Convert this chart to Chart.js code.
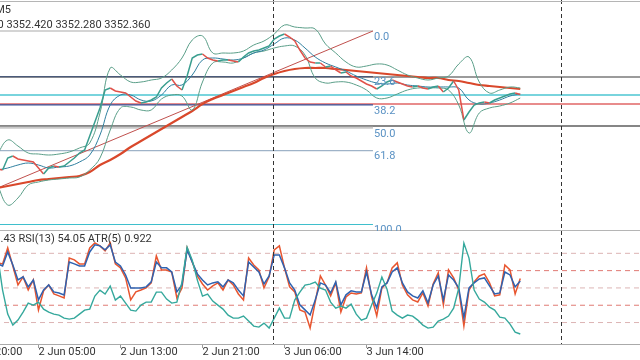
<!DOCTYPE html>
<html>
<head>
<meta charset="utf-8">
<script src="https://cdn.jsdelivr.net/npm/chart.js@4.4.0/dist/chart.umd.min.js"></script>
<style>
  html, body { margin: 0; padding: 0; background: #fff; overflow: hidden; }
  #wrap { position: relative; width: 640px; height: 360px; overflow: hidden; }
  canvas { position: absolute; left: -50px; }
  #main { top: 0; }
  #osc  { top: 231px; }
</style>
</head>
<body>
<div id="wrap">
  <canvas id="main" width="690" height="231"></canvas>
  <canvas id="osc" width="690" height="129"></canvas>
</div>
<script>
// time axis in trading hours, 0 = 2 Jun 05:00 ---------------------
const tickHours  = [-8, 0, 8, 16, 24, 32];
const tickLabels = ["30 May 20:00", "2 Jun 05:00", "2 Jun 13:00", "2 Jun 21:00", "3 Jun 06:00", "3 Jun 14:00"];
const xMin = -8.63, xMax = 58.68;

// price, sampled every 30 min
const closeStart = -4, closeStep = 0.5;
const close = [
  3315.1, 3314.6, 3320.6, 3321.6, 3320.1, 3319.6, 3319.1, 3318.6, 3315.6, 3312.6,
  3315.6, 3316.6, 3316.1, 3316.6, 3318.6, 3320.6, 3323.1, 3324.6, 3331.6, 3338.6,
  3345.6, 3354.6, 3355.6, 3354.1, 3353.6, 3353.1, 3351.1, 3349.1, 3348.1, 3348.6,
  3349.6, 3351.1, 3355.6, 3358.1, 3360.1, 3356.6, 3354.6, 3361.6, 3370.6, 3372.1,
  3372.6, 3370.6, 3369.6, 3369.1, 3369.6, 3369.6, 3369.1, 3368.6, 3371.1, 3373.1,
  3374.1, 3374.6, 3375.6, 3376.6, 3380.1, 3381.6, 3382.6, 3381.1, 3379.1, 3374.6,
  3370.6, 3368.6, 3368.1, 3368.1, 3366.1, 3366.6, 3364.6, 3363.1, 3363.6, 3361.6,
  3360.6, 3359.1, 3357.6, 3356.6, 3355.1, 3356.6, 3358.6, 3359.6, 3358.6, 3357.6,
  3356.6, 3356.1, 3356.6, 3355.6, 3355.1, 3356.1, 3356.6, 3353.6, 3355.6, 3359.1,
  3354.6, 3339.6, 3343.6, 3347.1, 3348.1, 3348.6, 3348.1, 3349.6, 3350.6, 3351.6,
  3352.6, 3353.1, 3352.36
];

// indicators on the price pane, sampled every hour
const bandStart = -4, bandStep = 1;
const bbUpper = [
  3322.6, 3329.6, 3326.6, 3323.1, 3322.6, 3322.1, 3322.6, 3323.6, 3325.6, 3328.1,
  3343.1, 3365.6, 3362.1, 3358.6, 3358.6, 3359.6, 3360.6, 3364.6, 3370.6, 3379.6,
  3381.6, 3373.1, 3373.1, 3373.1, 3374.1, 3377.1, 3379.1, 3382.6, 3387.1, 3386.1,
  3385.6, 3385.1, 3377.6, 3373.1, 3368.6, 3366.1, 3366.6, 3367.6, 3367.1, 3364.6,
  3362.1, 3360.6, 3359.6, 3360.6, 3361.6, 3367.6, 3371.1, 3358.6, 3353.1, 3354.6,
  3356.1, 3355.6
];
const bbLower = [
  3307.1, 3297.1, 3300.6, 3307.1, 3308.6, 3309.6, 3310.1, 3310.6, 3311.1, 3314.6,
  3320.6, 3334.6, 3345.6, 3346.1, 3344.6, 3344.6, 3350.1, 3352.1, 3351.6, 3344.6,
  3358.6, 3368.1, 3368.6, 3368.1, 3370.6, 3373.1, 3374.1, 3375.6, 3376.6, 3376.6,
  3372.1, 3360.6, 3358.1, 3358.6, 3358.6, 3357.1, 3354.6, 3350.6, 3350.6, 3352.6,
  3354.6, 3355.6, 3355.6, 3355.6, 3354.6, 3347.1, 3333.1, 3343.1, 3345.6, 3346.6,
  3348.1, 3350.6
];
const maFast = [
  3314.6, 3315.6, 3317.1, 3318.1, 3317.1, 3315.6, 3316.1, 3316.6, 3318.6, 3322.1,
  3332.1, 3347.1, 3352.1, 3352.1, 3349.6, 3349.1, 3352.1, 3357.1, 3357.1, 3362.1,
  3369.6, 3370.6, 3370.1, 3369.6, 3370.6, 3373.1, 3374.6, 3377.6, 3380.6, 3379.6,
  3375.6, 3371.1, 3368.1, 3366.1, 3364.1, 3361.6, 3359.6, 3358.1, 3357.6, 3358.1,
  3357.1, 3356.6, 3356.1, 3356.1, 3356.1, 3355.6, 3349.6, 3347.6, 3348.1, 3349.6,
  3351.6, 3352.6
];
const maSlow = [
  3305.6, 3306.6, 3307.6, 3308.6, 3309.6, 3310.1, 3310.6, 3311.1, 3311.6, 3313.6,
  3317.1, 3319.6, 3322.6, 3326.1, 3329.1, 3332.1, 3335.1, 3338.1, 3341.1, 3344.1,
  3347.6, 3350.1, 3352.1, 3354.1, 3356.1, 3358.1, 3360.6, 3362.6, 3364.1, 3365.1,
  3365.6, 3365.6, 3365.6, 3365.1, 3364.6, 3364.1, 3363.6, 3363.1, 3362.6, 3362.1,
  3361.6, 3361.1, 3360.6, 3360.6, 3359.6, 3359.1, 3358.1, 3357.1, 3356.6, 3356.1,
  3355.6, 3355.1
];

// drawn objects
const fibHigh = 3384.1, fibLow = 3287.35;
const fibLevels = [0, 23.6, 38.2, 50, 61.8, 100];
const fibColors = ["#a9a9a9", "#4a5a7a", "#34509a", "#c9c9c9", "#9fb3c8", "#3fbfcc"];
const fibFrom = -12.5, fibTo = 32.63;
const hLines      = [3361.1, 3352.1, 3347.6, 3336.6];
const hLineColors = ["#7a7a7a", "#4cc6d2", "#e06666", "#5e5e5e"];
const vLines = [22.9, 51.0];

// oscillator pane, sampled every 30 min
const rsi9 = [
  64.5, 63.9, 73.1, 62.7, 51.7, 56.4, 48.8, 54.6, 37.3, 48.3, 51.7,
  46.5, 45.4, 44.2, 67.3, 66.2, 63.9, 63.9, 73.1, 76.0, 74.3,
  71.4, 76.0, 63.9, 61.6, 55.8, 43.1, 47.7, 48.8, 50.0, 52.9,
  68.5, 60.4, 60.4, 59.2, 44.2, 50.0, 73.1, 65.0, 56.9, 52.3,
  48.8, 51.2, 52.9, 48.8, 54.6, 51.7, 46.5, 43.1, 67.3, 63.3,
  60.4, 50.0, 56.4, 72.0, 74.3, 61.6, 50.6, 47.7, 37.3, 36.1,
  26.9, 41.9, 56.9, 51.7, 45.4, 52.9, 36.1, 44.8, 47.1, 46.5,
  47.1, 61.6, 44.8, 33.8, 50.0, 52.9, 61.6, 64.5, 51.7, 46.0,
  43.1, 41.9, 47.1, 39.6, 52.3, 58.7, 40.2, 60.4, 55.8, 48.8,
  28.0, 48.8, 53.5, 56.9, 58.1, 52.9, 45.4, 46.0, 63.3, 60.4,
  46.5, 55.43
];
const rsi13 = [
  64.0, 62.7, 70.8, 63.3, 54.6, 56.4, 50.6, 54.6, 43.1, 48.8, 51.7,
  47.7, 47.1, 46.0, 65.0, 63.9, 62.7, 62.7, 70.8, 74.9, 74.3,
  72.0, 74.9, 65.0, 62.7, 57.5, 50.0, 50.0, 50.0, 50.6, 53.5,
  65.0, 61.6, 61.6, 59.2, 47.7, 51.7, 72.0, 65.0, 58.1, 54.6,
  51.7, 52.9, 53.5, 50.6, 54.6, 52.9, 48.8, 45.4, 65.0, 62.1,
  59.2, 52.3, 56.9, 69.1, 69.1, 61.6, 52.9, 48.8, 40.2, 37.3,
  34.4, 43.1, 52.9, 51.7, 47.1, 53.5, 40.2, 46.0, 48.3, 47.7,
  47.7, 59.2, 46.0, 38.4, 50.6, 52.9, 59.2, 61.6, 52.9, 47.7,
  45.4, 44.2, 48.3, 41.3, 51.7, 56.9, 43.1, 57.5, 54.6, 50.0,
  32.7, 50.0, 52.9, 55.2, 55.8, 51.2, 46.5, 47.1, 59.2, 57.5,
  50.6, 54.05
];
const atr5 = [
  2.50, 1.80, 1.32, 1.10, 1.20, 1.36, 1.54, 1.50, 1.56, 1.42, 1.36,
  1.32, 1.30, 1.24, 1.22, 1.24, 1.32, 1.40, 1.42, 1.68, 1.80,
  1.72, 1.88, 1.60, 1.68, 1.54, 1.40, 1.38, 1.50, 1.56, 1.56,
  1.76, 1.76, 1.62, 1.54, 1.56, 1.96, 2.66, 2.40, 2.00, 1.68,
  1.72, 1.58, 1.50, 1.42, 1.30, 1.24, 1.24, 1.28, 1.18, 1.08,
  1.06, 1.14, 1.04, 1.24, 1.44, 1.24, 1.24, 1.60, 1.76, 1.90,
  1.92, 1.96, 1.84, 1.80, 1.56, 1.44, 1.48, 1.44, 1.52, 1.32,
  1.20, 1.24, 1.50, 1.74, 2.06, 1.82, 1.38, 1.30, 1.24, 1.30,
  1.28, 1.20, 1.10, 1.04, 1.06, 1.18, 1.22, 1.28, 1.44, 1.84,
  2.74, 2.44, 1.80, 1.62, 1.56, 1.46, 1.40, 1.26, 1.24, 1.12,
  0.96, 0.922
];
const rsiLevels = [70, 60, 50, 40, 30];
const rsiLevelColors = ["#dcb4b4", "#e07a74", "#dcb4b4", "#e07a74", "#dcb4b4"];

// helpers -------------------------------------------------------
const FONT = "Roboto, 'Noto Sans', sans-serif";
const series = (arr, start, step) => arr.map((v, i) => ({ x: start + i * step, y: v }));
const flat = (y, from, to) => [{ x: from, y }, { x: to, y }];
const fibPrice = r => fibHigh - (fibHigh - fibLow) * r / 100;

function plainLine(data, color, width, extra) {
  return Object.assign({
    data, borderColor: color, borderWidth: width,
    pointRadius: 0, fill: false, tension: 0
  }, extra || {});
}

function drawVLines(chart) {
  const { ctx, scales: { x } } = chart;
  ctx.save();
  ctx.strokeStyle = "#333";
  ctx.lineWidth = 1;
  ctx.setLineDash([4, 3]);
  vLines.forEach(v => {
    const px = Math.round(x.getPixelForValue(v)) + 0.5;
    ctx.beginPath();
    ctx.moveTo(px, 0);
    ctx.lineTo(px, chart.chartArea.bottom);
    ctx.stroke();
  });
  ctx.restore();
}

// price pane ----------------------------------------------------
const mainDatasets = [
  plainLine(series(close, closeStart, closeStep), "#3a9e8f", 1.5, {
    order: 1,
    segment: { borderColor: c => c.p1.parsed.y >= c.p0.parsed.y ? "#3a9e8f" : "#e0524a" }
  }),
  plainLine(series(maFast, bandStart, bandStep), "#2f7f9f", 1, { order: 2, tension: 0.4 }),
  plainLine(series(bbUpper, bandStart, bandStep), "#5a9e88", 1, { order: 3, tension: 0.4 }),
  plainLine(series(bbLower, bandStart, bandStep), "#5a9e88", 1, { order: 3, tension: 0.4 }),
  plainLine(series(maSlow, bandStart, bandStep), "#d9482b", 2.2, { order: 4, tension: 0.4 }),
  plainLine([{ x: fibFrom, y: fibLow }, { x: fibTo, y: fibHigh }], "#c0504d", 1, { order: 5 })
];
fibLevels.forEach((r, i) => {
  mainDatasets.push(plainLine(flat(fibPrice(r), fibFrom, fibTo), fibColors[i], i === 3 ? 2 : 1.2, { order: 6 }));
});
hLines.forEach((p, i) => {
  mainDatasets.push(plainLine(flat(p, xMin, xMax), hLineColors[i], 1.3, { order: 7 }));
});

const mainDecor = {
  id: "mainDecor",
  afterDraw(chart) {
    const { ctx, scales: { x, y } } = chart;
    drawVLines(chart);
    ctx.save();
    // frame lines
    ctx.strokeStyle = "#b5b5b5";
    ctx.lineWidth = 1;
    ctx.beginPath();
    ctx.moveTo(0, 1.5); ctx.lineTo(chart.width, 1.5);
    ctx.moveTo(0, chart.height - 0.5); ctx.lineTo(chart.width, chart.height - 0.5);
    ctx.stroke();
    // fib labels
    ctx.font = "11px " + FONT;
    ctx.fillStyle = "#5a92c4";
    ctx.textAlign = "left";
    ctx.textBaseline = "top";
    const lx = x.getPixelForValue(fibTo) + 1;
    fibLevels.forEach(r => {
      ctx.fillText(r.toFixed(1), lx, y.getPixelForValue(fibPrice(r)) + 0.5);
    });
    // header
    ctx.fillStyle = "#333";
    ctx.textBaseline = "middle";
    ctx.textAlign = "right";
    ctx.fillText("XAUUSD,M5", 61, 10);
    ctx.textAlign = "left";
    const first = "3352.360 ";
    ctx.fillText(first + "3352.420 3352.280 3352.360", 56.5 - ctx.measureText(first).width, 25);
    ctx.restore();
  }
};

new Chart(document.getElementById("main"), {
  type: "line",
  data: { datasets: mainDatasets },
  options: {
    responsive: false, animation: false, events: [],
    layout: { padding: 0 },
    plugins: { legend: { display: false }, tooltip: { enabled: false } },
    scales: {
      x: { type: "linear", min: xMin, max: xMax, display: false },
      y: { min: 3284.1, max: 3399.6, display: false }
    }
  },
  plugins: [mainDecor]
});

// oscillator pane -----------------------------------------------
const oscDatasets = [
  plainLine(series(atr5, closeStart, closeStep), "#35a89c", 1.4, { yAxisID: "y2", order: 1 }),
  plainLine(series(rsi13, closeStart, closeStep), "#2f62b0", 1.5, { order: 2 }),
  plainLine(series(rsi9, closeStart, closeStep), "#e8552f", 1.5, { order: 3 })
];
rsiLevels.forEach((v, i) => {
  oscDatasets.push(plainLine(flat(v, xMin, xMax), rsiLevelColors[i], 1, { order: 4, borderDash: [5, 4] }));
});

const oscDecor = {
  id: "oscDecor",
  afterDraw(chart) {
    const { ctx } = chart;
    drawVLines(chart);
    ctx.save();
    ctx.font = "11px " + FONT;
    ctx.fillStyle = "#333";
    ctx.textBaseline = "middle";
    ctx.textAlign = "left";
    const lead = "RSI(9) 55";
    ctx.fillText(lead + ".43 RSI(13) 54.05 ATR(5) 0.922", 50.5 - ctx.measureText(lead).width, 8);
    ctx.restore();
  }
};

new Chart(document.getElementById("osc"), {
  type: "line",
  data: { datasets: oscDatasets },
  options: {
    responsive: false, animation: false, events: [],
    layout: { padding: 0 },
    plugins: { legend: { display: false }, tooltip: { enabled: false } },
    scales: {
      x: {
        type: "linear", min: xMin, max: xMax,
        afterBuildTicks: s => { s.ticks = tickHours.map(v => ({ value: v })); },
        afterFit: s => { s.height = 16; },
        ticks: {
          align: "start", padding: -2, autoSkip: false, maxRotation: 0, minRotation: 0,
          color: "#333", font: { family: FONT, size: 11 },
          callback: (v, i) => tickLabels[i]
        },
        grid: { drawOnChartArea: false, tickLength: 4, color: "#999" },
        border: { color: "#aaa" }
      },
      y:  { min: 17.6, max: 82.9, display: false },
      y2: { min: 0.722, max: 2.982, display: false }
    }
  },
  plugins: [oscDecor]
});
</script>
</body>
</html>
